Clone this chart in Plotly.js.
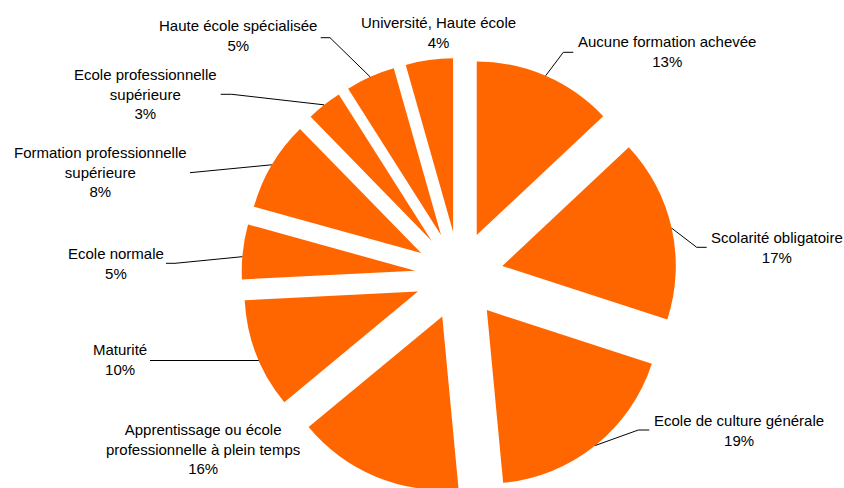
<!DOCTYPE html>
<html><head><meta charset="utf-8">
<script src="https://cdn.plot.ly/plotly-3.0.1.min.js"></script>
<style>
html,body{margin:0;padding:0;background:#fff;overflow:hidden}
#wrap{width:844px;height:488px;overflow:hidden}
#chart{width:844px;height:500px}
</style></head>
<body><div id="wrap"><div id="chart"></div></div>
<script>
// ---- data ----
const categories = [
  "Aucune formation achevée",
  "Scolarité obligatoire",
  "Ecole de culture générale",
  "Apprentissage ou école professionnelle à plein temps",
  "Maturité",
  "Ecole normale",
  "Formation professionnelle supérieure",
  "Ecole professionnelle supérieure",
  "Haute école spécialisée",
  "Université, Haute école"
];
const labelLines = [
  ["Aucune formation achevée"],
  ["Scolarité obligatoire"],
  ["Ecole de culture générale"],
  ["Apprentissage ou école", "professionnelle à plein temps"],
  ["Maturité"],
  ["Ecole normale"],
  ["Formation professionnelle", "supérieure"],
  ["Ecole professionnelle", "supérieure"],
  ["Haute école spécialisée"],
  ["Université, Haute école"]
];
const shares = [13.0, 17.0, 18.5, 15.5, 10.2, 5.1, 8.4, 3.3, 4.6, 4.4];

// ---- layout settings (pixels, from top-left) ----
const W = 844, H = 500;
const domX = [0.2861, 0.8020];
const domY = [0.0134, 0.8842];
const pullFrac = 0.255;
const sliceColor = "#FF6600";
const fontSpec = {family: "Liberation Sans, Arial, sans-serif", size: 15, color: "#000"};

// label block centres
const labelPos = [
  [667, 52], [776.5, 247], [738.5, 430], [203, 448.5], [120.3, 359],
  [115.5, 263], [100, 172], [145.5, 94], [237.7, 36], [438.7, 32.5]
];
// leader: [elbowX, elbowY, endX, endY, attach]  (attach 'mid' = slice mid-angle, number = y where it meets the left arc)
const leaders = [
  [563.3, 52.3, 573.3, 52.3, "mid"],
  [696.7, 247.3, 706.7, 247.3, "mid"],
  [638.3, 430, 649.3, 430, "mid"],
  null,
  [150, 360.5, 150, 360.5, 360.5],
  [175, 263.3, 166, 263.3, 256.7],
  [190, 172.7, 190, 172.7, "mid"],
  [231.7, 94.3, 220.7, 94.3, "mid"],
  [330, 37.7, 320.7, 37.7, "mid"],
  null
];

// ---- pie geometry (same as Plotly's) ----
const bw = W * (domX[1] - domX[0]), bh = H * (domY[1] - domY[0]);
const cx = W * (domX[0] + domX[1]) / 2;
const cy = H * (1 - (domY[0] + domY[1]) / 2);
const r = Math.min(bw, bh) / 2 / (1 + pullFrac);
const total = shares.reduce((a, b) => a + b, 0);

const px = x => x / W;
const py = y => 1 - y / H;

const annotations = [];
const shapes = [];
let cum = 0;
shares.forEach((v, i) => {
  const a0 = cum / total * 2 * Math.PI;
  cum += v;
  const a1 = cum / total * 2 * Math.PI;
  const mid = (a0 + a1) / 2;
  const dx = Math.sin(mid), dy = -Math.cos(mid);
  const scx = cx + pullFrac * r * dx, scy = cy + pullFrac * r * dy;
  const pct = Math.round(v / total * 100 + 1e-6) + "%";
  annotations.push({
    xref: "paper", yref: "paper",
    x: px(labelPos[i][0]), y: py(labelPos[i][1]),
    xanchor: "center", yanchor: "middle", align: "center",
    showarrow: false,
    text: labelLines[i].concat([pct]).join("<br>"),
    font: fontSpec
  });
  const L = leaders[i];
  if (L) {
    let sx, sy;
    if (typeof L[4] === "number") {
      sy = L[4];
      const ddy = sy - scy;
      sx = scx - Math.sqrt(Math.max(0, r * r - ddy * ddy));
    } else {
      sx = scx + r * dx; sy = scy + r * dy;
    }
    shapes.push({
      type: "path", xref: "paper", yref: "paper",
      path: `M${px(sx)},${py(sy)} L${px(L[0])},${py(L[1])} L${px(L[2])},${py(L[3])}`,
      line: {color: "#000", width: 1}
    });
  }
});

const trace = {
  type: "pie",
  labels: categories,
  values: shares,
  sort: false,
  direction: "clockwise",
  rotation: 0,
  pull: pullFrac,
  marker: {colors: categories.map(() => sliceColor), line: {width: 0}},
  textinfo: "none",
  hoverinfo: "label+percent",
  domain: {x: domX, y: domY},
  showlegend: false
};

Plotly.newPlot("chart", [trace], {
  width: W, height: H,
  margin: {l: 0, r: 0, t: 0, b: 0},
  paper_bgcolor: "#fff",
  showlegend: false,
  annotations: annotations,
  shapes: shapes,
  font: fontSpec
}, {displayModeBar: false, staticPlot: true});
</script>
</body></html>
